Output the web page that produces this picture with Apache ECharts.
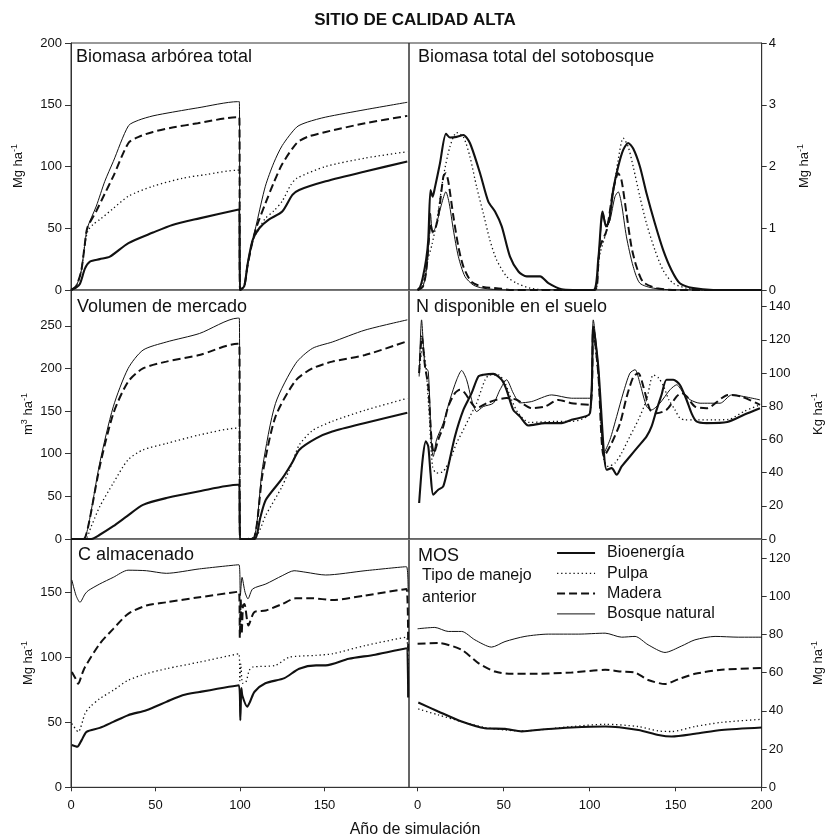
<!DOCTYPE html>
<html>
<head>
<meta charset="utf-8">
<script src="https://cdn.jsdelivr.net/npm/echarts@6/dist/echarts.min.js"></script>
<style>html,body{margin:0;padding:0;background:#fff}#c{width:825px;height:839px}</style>
</head>
<body>
<div id="c"></div>
<script>
// ---------- DATA ----------
const seriesNames = ['Bioenergía', 'Pulpa', 'Madera', 'Bosque natural'];
const panelTitles = ['Biomasa arbórea total', 'Biomasa total del sotobosque', 'Volumen de mercado', 'N disponible en el suelo', 'C almacenado', 'MOS'];
const leftXTicks = [0, 50, 100, 150];
const rightXTicks = [0, 50, 100, 150, 200];

// Panel 1: Biomasa arbórea total
const p1BioX = [0,3,5.3,8.3,11.2,17,23,34,48.5,60,76,98.6,99.6,100,102.5,104.5,107.5,111.4,117,125,131,135,150.7,174,199];
const p1BioY = [0,2,5,17.5,23,25,27,38,46.5,52.7,58,65,65.2,0,3,21,40.5,50,57,63.5,77,81,88,96,104];
const p1PulX = [0,3,6,8,10,13,17,25,34,48.5,66,80,98.6,99.6,100,102.5,104.5,107.5,111.4,115,120,125,130,133.6,150.7,174,199];
const p1PulY = [0,3,15,35,48,53,57,66,76,84,90.5,93.5,97,97,0,3,20,40,50,58,64,72,85,90.5,100,106.8,112];
const p1MadX = [0,3,6,8,9.6,15,20,25,34,40,48.5,60,75,98.6,99.6,100,102.5,104.5,107.5,110,115,120,125,133.6,140,150.7,174,199];
const p1MadY = [0,3,15,35,50,64,78,92,119,124,128,131.5,135,140,140,0,3,20,40,52,70,87,102,119,124,128,135,141];
const p1BosX = [0,3,6,8,9.6,15,20,25,34,40,48.5,60,75,98.6,99.6,100,102.5,104.5,107.5,110,115,120,125,133.6,140,150.7,174,199];
const p1BosY = [0,3,15,35,50,68,88,104,133,137.5,141,144,147.5,152.5,152.5,0,3,20,40,55,84,103,117,132,136,140,146,152];

// Panel 2: Biomasa total del sotobosque
const p2BioX = [0,1.5,3,5,6.2,7.5,8.7,10,13,16.5,18.8,22.7,26.6,30.4,36.3,41.1,45,48.9,53.7,58.6,63.4,71.2,76,83.7,90,102.1,105,107.5,109.5,111.4,113.7,116.6,119.5,122.4,125.3,129.2,133,137.9,142.7,147.6,152.4,160.2,171.8,200];
const p2BioY = [0,0.05,0.2,0.5,0.81,1.62,1.51,1.65,2.05,2.53,2.47,2.48,2.51,2.38,1.89,1.43,1.27,1.03,0.54,0.30,0.22,0.22,0.11,0.01,0,0,0.49,1.27,1.03,1.13,1.62,2.0,2.27,2.38,2.29,2.0,1.57,1.08,0.65,0.32,0.11,0.03,0,0];
const p2PulX = [0,3,6,8.3,11.2,15,18.8,22.7,26.6,30.4,34.3,38.2,42,45.9,51.7,57.6,65.3,75,103,105,106,109.9,113.7,116.6,119.5,122.4,125.3,129.2,133,137.9,142.7,148.5,156.3,165,200];
const p2PulY = [0,0.1,0.5,0.73,1.13,1.84,2.32,2.55,2.48,2.16,1.67,1.24,0.81,0.49,0.22,0.11,0.03,0,0,0.4,0.59,0.97,1.57,2.11,2.46,2.32,2.0,1.51,1.08,0.65,0.32,0.11,0.03,0,0];
const p2MadX = [0,3,5,6.5,7.5,8.7,10,12,15,16.4,17.9,20.8,23.7,26.6,31.4,38.2,45.9,55,103,105,106,109.9,113.7,116.6,118.5,121.4,124.3,127.2,131.1,138.9,150,200];
const p2MadY = [0,0.05,0.3,0.8,1.08,0.95,0.97,1.19,1.84,1.89,1.75,1.19,0.70,0.38,0.13,0.05,0.03,0,0,0.4,0.70,0.97,1.62,1.89,1.78,1.24,0.70,0.38,0.13,0.03,0,0];
const p2BosX = [0,3,5,6.8,7.5,8.7,10.6,14,16.4,18.4,20.8,23.7,27.5,32.4,38,50,103,105,107.9,109.9,111.8,114.7,116.6,118.5,121.4,125.3,129.2,137,150,200];
const p2BosY = [0,0.05,0.3,0.9,1.24,0.92,1.03,1.40,1.59,1.40,0.97,0.54,0.22,0.08,0.03,0,0,0.5,1.24,1.03,1.13,1.51,1.59,1.40,0.86,0.38,0.11,0.03,0,0];

// Panel 3: Volumen de mercado
const p3BioX = [0,12,17,25,33,42.6,56.4,76,98.6,99.6,100,108.5,112,115.3,125,131,135,145,154.6,174,199];
const p3BioY = [0,0,5,15,26.5,40,48,56,63.6,63.6,0,0,25,46,71,90,104.5,118,126,136,148];
const p3PulX = [0,8.3,12,17,25,33.8,42.6,56.4,76,98.6,99.6,100,109.4,115.3,125,131,135,142.8,154.6,174,199];
const p3PulY = [0,0,15,38,65.5,93,104.5,112,122,130,130,0,3,28,62,90,110,127,138,151,165];
const p3MadX = [0,7.3,10.2,17,25,33.8,42.6,56.4,76,98.6,99.6,100,107.5,113.4,121,133,142.8,154.6,174,199];
const p3MadY = [0,0,15,85,147,184.5,200,208,215.7,229,229,0,0,77,143.5,186,200,208,215.7,232];
const p3BosX = [0,7.3,10.2,17,25,33.8,42.6,56.4,76,98.6,99.6,100,107.5,113.4,121,133,142.8,154.6,174,199];
const p3BosY = [0,0,15,89,155,200,221.5,231,241,259,259,0,0,85,159,206,223.5,231,245,257];

// Panel 4: N disponible en el suelo
const p4BioX = [0.9,2.9,4.8,6.2,7.5,9.1,12,14.9,17.8,21.7,26.6,31.4,35.3,38.2,44,48.9,51.7,55.6,59.5,64.3,74,83.7,89.5,100.2,102.1,105,108.3,109.9,112.8,115.7,118.6,123.4,128.3,133.1,136,138.9,141.8,144.7,148.6,152.4,156.3,159.2,162.1,167.9,180,190,199];
const p4BioY = [21.7,47.7,58.8,55.8,39.7,26.7,29.7,31.7,43.7,61.8,77.8,87.9,97.9,98.9,99.5,95.9,89.9,77.8,73.8,68.4,69.8,69.8,71.8,75.8,128,103.9,51.8,41.7,42.7,38.7,43.7,49.7,55.8,61.8,67.8,77.8,86.9,95.9,95.9,92.9,83.9,75.8,70.8,69.8,70.5,75,78.8];
const p4PulX = [0.9,2.9,4.8,6.8,8.7,11,14.9,18.8,22.7,26.6,30.4,34.3,39.2,42,46.9,50.8,54.6,58.5,65,80,89.5,100.2,102.1,105,108.3,110.8,114.7,118.6,123.4,128.3,133.1,137,140,143,146,149.6,152.4,155.4,160.2,171.8,180.6,190,199];
const p4PulY = [99.9,116,103.9,73.8,43.7,39.7,40.7,47.7,57.8,65.8,73.8,81.8,95.9,98.9,98.9,93.9,83.9,75.8,70.2,70.8,70.8,75.8,124,97.9,47.7,43.7,45.7,51.8,61.8,71.8,83.9,98.9,97,91.9,83.9,77.8,72.8,71.8,71.8,71.8,72,77,80.8];
const p4MadX = [0.9,2.5,4.3,6.2,8.1,9.5,12,14.9,17.8,21.7,24.6,27.5,31.4,34.3,40.1,45.9,51.7,57.6,66.3,74,81.8,89.5,100.2,102.1,105,108.3,112.8,117.7,121.6,125.5,128.3,131.2,135.1,138.9,144.7,150.6,153.5,156.4,161.2,168,180.6,188.4,199];
const p4MadY = [100,122,104,91.9,59.8,51.8,59.8,67.8,79.8,87.9,89.9,87.9,81.8,78.8,81.8,83.9,84.9,83.9,78.8,79.8,83.8,81.8,80.8,126,99.9,49.7,57.8,69.8,85.9,97.9,99.9,91.9,77.8,75.8,77.8,85.9,87.9,85.9,79.8,78.8,86.8,85.8,80.8];
const p4BosX = [0.9,2.3,4.3,6.2,8.1,9.1,11,14.9,18.8,22.7,25.6,28.5,31.4,34.3,38.2,44,47.9,51.7,55.6,59.5,66.3,77.9,89.5,100.2,102.1,105,108.3,111.8,115.7,119.5,123.4,126.4,129.2,133.1,136,140.8,146.7,150.6,154.5,158.4,164.2,175.8,182.6,199];
const p4BosY = [97.9,132,103.9,100.9,55.8,49.7,59.8,69.8,83.9,95.9,101.5,95.9,83.9,76.8,79.8,81.8,89.9,95.9,87.9,82,82.8,86.8,84.8,84.8,132,103.9,51.8,59.8,73.8,87.9,99.9,102,93.9,79.8,77.8,81.8,89.9,92.9,87.9,83.9,81.8,81.8,86.8,83.8];

// Panel 5: C almacenado
const p5BioX = [0.5,3.7,6.3,9.2,17,25,33.8,44.6,56.4,66,76,99.4,100.2,100.8,101.5,104.3,106,108.6,115,126.3,135,145,150.7,164.4,180,198.5,199.5];
const p5BioY = [32.5,31.2,36.3,42.7,45.7,50.3,55.5,59.3,65.7,70.8,73.3,78.5,51.6,76.4,70,62,66,73.5,80,84,91.2,93.8,93.8,98.9,102,107,69];
const p5PulX = [0.5,4.3,8.3,11.2,17,25,33.8,44.6,56.4,76,99.4,99.9,100.5,101.5,103.5,105.5,107.5,121,129,145,154.6,174,198.5,199.5];
const p5PulY = [49,42.7,56.7,61.8,68.2,74.6,82.3,87.4,91.2,96.3,102.7,82,95,80,81,90,92.5,93.8,100,101.5,102.7,109,115.5,85];
const p5MadX = [0.5,2.5,4.3,6.5,8.3,17,25,33.8,44.6,56.4,76,99.4,99.9,100.4,101,101.8,102.6,105,108.4,115.3,125,133,142.8,154.6,174,198.5,199.5];
const p5MadY = [88.7,84,79.7,87,92.5,110.4,121.9,133.4,139.8,142.3,146.2,150.5,115,145,118,140,141,124.5,134.7,136,141,145.4,145.4,144.1,147.5,152.6,105];
const p5BosX = [0.5,3,5.3,8.3,10.2,17,25,33.8,44.6,56.4,76,99.4,100.2,101.2,103,104.7,107.5,115.3,125,132,139,150.7,174,198.5,199.5];
const p5BosY = [159.5,147.5,142.3,148.7,151.3,156.4,161.5,167,166.6,164.6,168,171.2,147.5,161.5,150,145,152.6,156.4,162.8,166.6,165.4,163.3,166.6,169.7,150];

// Panel 6: MOS
const p6BioX = [0.4,12,25.6,39.1,50.8,60.5,74,89.5,109,128.3,140,147.7,161.2,176.7,200];
const p6BioY = [44.4,39.7,34.4,30.9,30.6,29.3,30.4,31.3,31.8,30,27.4,26.6,28,30,31.3];
const p6PulX = [0.4,12,25.6,39.1,50.8,60.5,89.5,109,128.3,140,147.7,161.2,176.7,200];
const p6PulY = [41,37.9,34.4,31.3,30,29.5,31.8,33,31.8,29.5,29.2,31.8,34,35.6];
const p6MadX = [0,12,25.6,35.3,45,54.6,66.3,89.5,109,118.6,126.4,134,143.8,151.6,161.2,176.7,200];
const p6MadY = [75.1,75.5,72,65,60.6,59.4,59.4,60.1,61.5,60.6,60.1,56.2,54.1,56.6,59.4,61.5,62.5];
const p6BosX = [0,10,17.8,25.6,33.3,43,50.8,62.4,76,93.4,109,118.6,126.4,134,143.8,153.5,161.2,172.9,186.4,200];
const p6BosY = [83,83.7,81.6,81.6,77.2,73.4,76.3,79,80.2,80.2,80.7,78.6,79,74.6,70.6,74,77.2,79,78.6,78.6];

// ---------- LAYOUT / STYLE ----------
const FONT = '"Liberation Sans", Arial, sans-serif';
const INK = '#111';
const GRIDS = [
  {left: 71, top: 43, width: 338, height: 247},
  {left: 409, top: 43, width: 352.7, height: 247},
  {left: 71, top: 290, width: 338, height: 249},
  {left: 409, top: 290, width: 352.7, height: 249},
  {left: 71, top: 539, width: 338, height: 248.3},
  {left: 409, top: 539, width: 352.7, height: 248.3}
];
const Y_RANGES = [
  {min: 0, max: 200, interval: 50},
  {min: 0, max: 4, interval: 1},
  {min: 0, max: 292, interval: 50},
  {min: 0, max: 150, interval: 20},
  {min: 0, max: 191, interval: 50},
  {min: 0, max: 130, interval: 20}
];
const LINE_STYLES = {
  'Bioenergía': {color: INK, width: 2.1, type: 'solid'},
  'Pulpa': {color: INK, width: 1.3, type: [1.3, 2.8]},
  'Madera': {color: INK, width: 2, type: [8, 4]},
  'Bosque natural': {color: INK, width: 1, type: 'solid'}
};
const PANEL_DATA = [
  [[p1BioX, p1BioY], [p1PulX, p1PulY], [p1MadX, p1MadY], [p1BosX, p1BosY]],
  [[p2BioX, p2BioY], [p2PulX, p2PulY], [p2MadX, p2MadY], [p2BosX, p2BosY]],
  [[p3BioX, p3BioY], [p3PulX, p3PulY], [p3MadX, p3MadY], [p3BosX, p3BosY]],
  [[p4BioX, p4BioY], [p4PulX, p4PulY], [p4MadX, p4MadY], [p4BosX, p4BosY]],
  [[p5BioX, p5BioY], [p5PulX, p5PulY], [p5MadX, p5MadY], [p5BosX, p5BosY]],
  [[p6BioX, p6BioY], [p6PulX, p6PulY], [p6MadX, p6MadY], [p6BosX, p6BosY]]
];

const labelStyle = {fontFamily: FONT, fontSize: 13, color: INK};

const grids = GRIDS.map(g => Object.assign({show: true, borderColor: '#333', borderWidth: 1, containLabel: false}, g));

const xAxes = GRIDS.map((g, i) => {
  const isRight = i % 2 === 1;
  const isBottom = i >= 4;
  const ticks = isRight ? rightXTicks : leftXTicks;
  return {
    type: 'value', gridIndex: i,
    min: isRight ? -5 : 0, max: 200,
    splitLine: {show: false},
    axisLine: {show: true, onZero: false, lineStyle: {color: isBottom ? '#333' : '#777', width: 1}},
    axisTick: {show: isBottom, inside: false, length: 4, lineStyle: {color: '#333'}, customValues: ticks},
    axisLabel: Object.assign({show: isBottom, margin: 12, customValues: ticks}, labelStyle)
  };
});

const yAxes = GRIDS.map((g, i) => {
  const isRight = i % 2 === 1;
  const r = Y_RANGES[i];
  return {
    type: 'value', gridIndex: i, position: isRight ? 'right' : 'left',
    min: r.min, max: r.max, interval: r.interval,
    splitLine: {show: false},
    axisLine: {show: true, onZero: false, lineStyle: {color: '#333', width: 1}},
    axisTick: {show: true, inside: false, length: isRight ? 5 : 6, lineStyle: {color: '#333'}},
    axisLabel: Object.assign({margin: isRight ? 7 : 9, showMaxLabel: (i < 2), showMinLabel: true}, labelStyle)
  };
});

const series = [];
PANEL_DATA.forEach((panel, gi) => {
  panel.forEach((pair, si) => {
    const name = seriesNames[si];
    const xs = pair[0], ys = pair[1];
    series.push({
      type: 'line', name: name, xAxisIndex: gi, yAxisIndex: gi,
      data: xs.map((x, k) => [x, ys[k]]),
      symbol: 'circle', symbolSize: 0, showSymbol: false,
      smooth: 0.25,
      lineStyle: LINE_STYLES[name],
      itemStyle: {color: INK},
      clip: true, silent: true,
      z: 3 + (3 - si)
    });
  });
});

function txt(x, y, text, size, opts) {
  opts = opts || {};
  return {
    type: 'text', x: x, y: y, rotation: opts.rotation || 0, z: 20,
    style: {
      text: text, fill: INK,
      font: (opts.bold ? 'bold ' : '') + size + 'px ' + FONT,
      fontSize: size, fontFamily: FONT, fontWeight: opts.bold ? 'bold' : 'normal',
      textAlign: opts.align || 'left', align: opts.align || 'left',
      textVerticalAlign: 'middle', verticalAlign: 'middle',
      rich: opts.rich
    }
  };
}
function unitRich(size) {
  return {
    a: {fontSize: size, fontFamily: FONT, fill: INK, color: INK, lineHeight: 15},
    s: {fontSize: 9, fontFamily: FONT, fill: INK, color: INK, verticalAlign: 'top', lineHeight: 15}
  };
}
const V = Math.PI / 2;
const graphics = [
  txt(415, 20, 'SITIO DE CALIDAD ALTA', 17, {bold: true, align: 'center'}),
  txt(415, 830, 'Año de simulación', 16, {align: 'center'}),
  txt(76, 57, panelTitles[0], 18),
  txt(418, 57, panelTitles[1], 18),
  txt(77, 307, panelTitles[2], 18),
  txt(416, 307, panelTitles[3], 18),
  txt(78, 555, panelTitles[4], 18),
  txt(418, 556, panelTitles[5], 18),
  txt(422, 576, 'Tipo de manejo', 16),
  txt(422, 598, 'anterior', 16),
  txt(18, 166, '{a|Mg ha}{s|-1}', 13, {align: 'center', rotation: V, rich: unitRich(13)}),
  txt(28, 414, '{a|m}{s|3}{a| ha}{s|-1}', 13, {align: 'center', rotation: V, rich: unitRich(13)}),
  txt(28, 663, '{a|Mg ha}{s|-1}', 13, {align: 'center', rotation: V, rich: unitRich(13)}),
  txt(804, 166, '{a|Mg ha}{s|-1}', 13, {align: 'center', rotation: V, rich: unitRich(13)}),
  txt(818, 414, '{a|Kg ha}{s|-1}', 13, {align: 'center', rotation: V, rich: unitRich(13)}),
  txt(818, 663, '{a|Mg ha}{s|-1}', 13, {align: 'center', rotation: V, rich: unitRich(13)})
];

const legendData = seriesNames.map(n => ({
  name: n,
  lineStyle: {color: INK, width: LINE_STYLES[n].width, type: LINE_STYLES[n].type},
  itemStyle: {opacity: 0, borderWidth: 0}
}));

const chart = echarts.init(document.getElementById('c'), null, {renderer: 'canvas', width: 825, height: 839});
chart.setOption({
  animation: false,
  backgroundColor: '#fff',
  grid: grids,
  xAxis: xAxes,
  yAxis: yAxes,
  legend: {
    data: legendData, orient: 'vertical', left: 551, top: 540,
    itemWidth: 38, itemHeight: 14, itemGap: 4.3, selectedMode: false,
    itemStyle: {opacity: 0, borderWidth: 0},
    textStyle: {fontFamily: FONT, fontSize: 16, color: INK, lineHeight: 16, padding: [0, 0, 0, 7]}
  },
  graphic: graphics,
  series: series
});
</script>
</body>
</html>
